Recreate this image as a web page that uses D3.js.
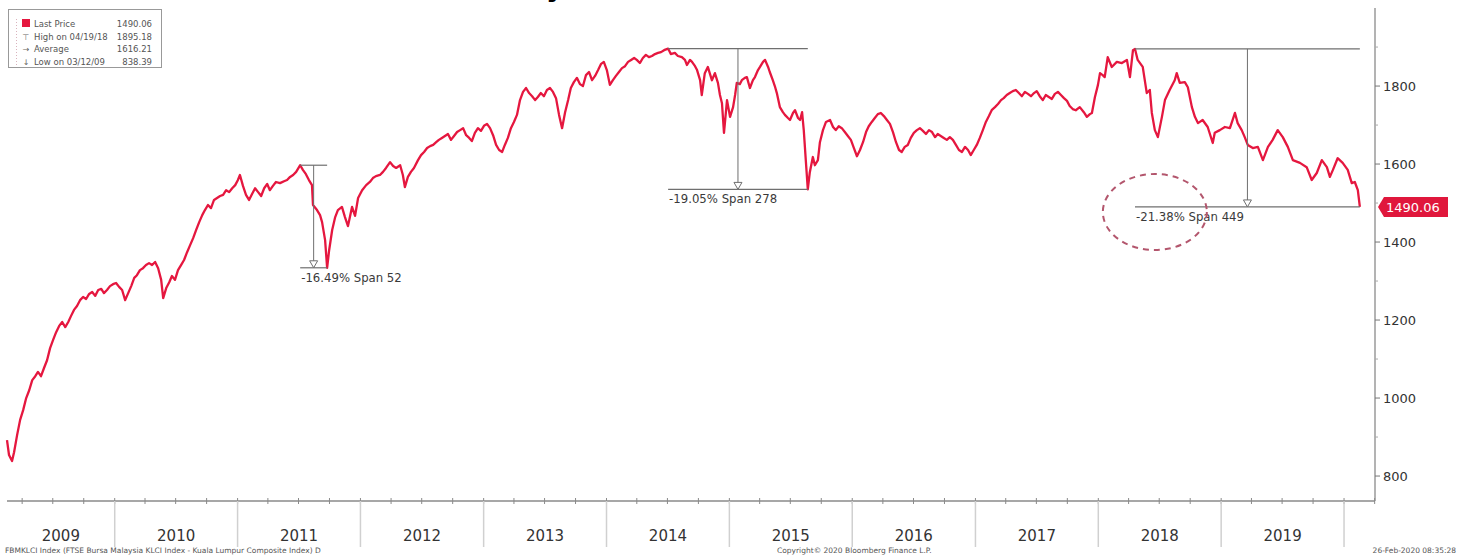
<!DOCTYPE html>
<html>
<head>
<meta charset="utf-8">
<script src="https://cdn.jsdelivr.net/npm/d3@7"></script>
<style>
  html, body { margin: 0; padding: 0; background: #fff; }
  svg { display: block; }
</style>
</head>
<body>
<div id="chart"></div>
<script>
// ---------------- DATA ----------------
// Calendar day offsets counted from 2009-01-01, and FBMKLCI closing prices
const dayOffsets = [
  45,51,60,66,75,84,93,102,111,120,129,137,146,155,164,173,182,191,200,209,218,227,235,244,253,262,271,280,289,298,307,316,325,333,342,351,360,369,378,
  387,396,405,414,423,431,440,449,458,467,476,485,494,503,509,518,527,535,544,553,562,571,580,589,598,607,616,625,633,642,651,660,669,678,687,696,705,714,723,731,737,
  746,755,764,773,782,791,800,809,818,826,835,844,856,868,877,886,895,904,916,924,933,942,951,954,966,975,981,990,996,1002,1011,1020,1028,1040,1049,1058,1070,1079,1088,1100,
  1112,1123,1132,1141,1153,1162,1171,1183,1192,1201,1213,1221,1227,1236,1245,1254,1266,1275,1284,1293,1302,1311,1320,1328,1337,1346,1355,1364,1373,1382,1391,1400,1409,1418,1426,1435,1444,1453,1462,
  1471,1480,1489,1498,1507,1516,1524,1533,1542,1551,1560,1569,1578,1587,1596,1605,1614,1622,1631,1640,1649,1658,1667,1676,1685,1694,1703,1712,1720,1729,1738,1747,1756,1765,1774,1783,1792,1801,1810,1818,1827,
  1836,1845,1854,1863,1872,1881,1890,1899,1908,1916,1925,1934,1943,1952,1961,1970,1979,1988,1997,2009,2017,2029,2038,2050,2059,2065,2074,2080,2089,2095,2104,2109,2118,2127,2139,2148,2157,2163,2169,2175,2184,2193,
  2202,2208,2213,2222,2228,2237,2243,2252,2261,2267,2276,2282,2291,2297,2306,2311,2320,2326,2332,2341,2350,2356,2365,2371,2380,2386,2395,2401,2407,2412,2418,2424,2430,2439,2445,2454,2460,2469,2478,2490,2499,2507,2516,2525,2534,2543,2552,
  2561,2570,2579,2588,2597,2605,2614,2623,2632,2641,2650,2659,2668,2677,2686,2695,2703,2712,2721,2730,2739,2748,2757,2766,2775,2784,2793,2802,2810,2819,2828,2837,2846,2855,2864,2873,2882,2891,2900,2908,2917,
  2926,2935,2944,2953,2962,2971,2980,2989,2998,3006,3015,3024,3033,3042,3051,3060,3069,3078,3087,3096,3104,3113,3122,3131,3140,3149,3158,3167,3176,3185,3194,3202,3211,3220,3232,3244,3253,3262,3268,3277,3286,
  3292,3300,3306,3315,3327,3342,3357,3372,3381,3390,3396,3404,3419,3431,3440,3446,3455,3464,3476,3485,3499,3514,3520,3529,3544,3553,3565,3574,3583,3597,3612,3627,3633,3648,
  3663,3678,3693,3701,3713,3722,3731,3746,3761,3776,3791,3805,3820,3835,3850,3865,3886,3906,3921,3936,3951,3966,3975,3984,3998,4013,4028,4040,4049,4058,4064
];
const prices = [
  892,854,838.39,861,905,944,969,1000,1020,1046,1056,1067,1056,1077,1097,1128,1149,1169,1185,1195,1182,1195,1210,1226,1236,1251,1259,1254,1267,1272,1262,1277,1280,1269,1277,1287,1292,1295,1285,
  1277,1251,1269,1287,1308,1315,1328,1333,1341,1346,1341,1349,1333,1303,1256,1282,1297,1313,1303,1328,1341,1354,1374,1392,1410,1431,1451,1469,1482,1495,1487,1508,1513,1518,1521,1533,1528,1538,1546,1559,1572,
  1544,1521,1508,1523,1538,1528,1518,1538,1549,1533,1544,1554,1551,1556,1559,1567,1572,1580,1597,1585,1574,1559,1546,1495,1482,1469,1451,1405,1334,1379,1431,1464,1482,1490,1464,1441,1490,1467,1513,1533,
  1546,1554,1564,1569,1572,1580,1590,1605,1595,1590,1597,1572,1541,1567,1580,1590,1610,1623,1631,1641,1646,1649,1656,1662,1667,1672,1677,1662,1672,1682,1687,1692,1674,1667,1659,1680,1692,1685,1698,
  1703,1692,1674,1649,1636,1631,1649,1667,1692,1708,1726,1764,1785,1795,1782,1774,1764,1772,1782,1774,1790,1795,1785,1769,1726,1692,1733,1764,1795,1810,1821,1805,1800,1828,1836,1815,1826,1841,1857,1862,1841,
  1803,1815,1826,1836,1846,1851,1862,1867,1872,1867,1859,1872,1880,1874,1877,1882,1885,1887,1892,1896,1882,1885,1877,1874,1867,1854,1867,1862,1851,1841,1815,1777,1833,1849,1815,1833,1808,1777,1756,1680,1764,1721,
  1746,1777,1808,1805,1815,1821,1823,1795,1815,1823,1841,1849,1862,1867,1849,1836,1815,1800,1782,1746,1733,1726,1718,1713,1731,1738,1718,1713,1733,1687,1610,1535,1579,1618,1597,1610,1656,1687,1708,1713,1695,1687,1697,1692,1682,1672,1662,
  1641,1620,1636,1656,1682,1697,1708,1718,1728,1731,1723,1713,1703,1682,1656,1636,1631,1644,1649,1667,1680,1687,1692,1685,1677,1687,1682,1669,1677,1672,1667,1662,1669,1662,1649,1636,1631,1644,1636,1623,1636,
  1649,1667,1687,1708,1723,1739,1746,1754,1764,1769,1777,1782,1787,1790,1782,1774,1785,1780,1774,1782,1787,1774,1764,1777,1772,1767,1780,1785,1777,1769,1762,1749,1741,1738,1746,1733,1721,1728,1731,1772,1803,
  1833,1828,1823,1874,1849,1862,1859,1867,1823,1892,1895.18,1867,1849,1782,1790,1731,1687,1669,1721,1764,1790,1815,1833,1808,1810,1797,1746,1721,1705,1713,1695,1654,1680,1687,
  1695,1692,1731,1705,1687,1669,1649,1641,1644,1610,1644,1662,1687,1669,1644,1610,1603,1592,1559,1577,1610,1592,1567,1585,1615,1603,1585,1551,1554,1533,1490.06
];

const yearLabels = [2009,2010,2011,2012,2013,2014,2015,2016,2017,2018,2019];
const yTickValues = [800,1000,1200,1400,1600,1800];
const yMinorTickValues = [900,1100,1300,1500,1700,1900];

// Drawdowns: peak day / trough day (offsets) and their labels
const drawdownPeakDays = [916, 2009, 3396];
const drawdownTroughDays = [996, 2424, 4064];
const drawdownLabels = ["-16.49% Span 52", "-19.05% Span 278", "-21.38% Span 449"];

const legendLabels = ["Last Price", "High on 04/19/18", "Average", "Low on 03/12/09"];
const legendValues = ["1490.06", "1895.18", "1616.21", "838.39"];
const legendSymbols = ["", "\u22A4", "\u2192", "\u2193"];

const lastPriceLabel = "1490.06";
const footerLeft = "FBMKLCI Index (FTSE Bursa Malaysia KLCI Index - Kuala Lumpur Composite Index)  D";
const footerCenter = "Copyright\u00A9 2020 Bloomberg Finance L.P.";
const footerRight = "26-Feb-2020 08:35:28";

// ---------------- CHART ----------------
const W = 1460, H = 555;
const base = new Date(Date.UTC(2009, 0, 1));
const toDate = n => d3.utcDay.offset(base, n);
const data = dayOffsets.map((d, i) => ({ date: toDate(d), day: d, v: prices[i] }));

const plotLeft = 7, axisX = 1375, axisBottom = 501, axisTop = 8;

const x = d3.scaleUtc().domain([toDate(45), toDate(4109)]).range([plotLeft, axisX]);
const y = d3.scaleLinear().domain([736, 1995]).range([axisBottom, 10]);

const svg = d3.select("#chart").append("svg").attr("width", W).attr("height", H)
  .style("font-family", "'DejaVu Sans', Verdana, sans-serif");
svg.append("rect").attr("width", W).attr("height", H).attr("fill", "#fff");

// cut-off title remnant at top edge
svg.append("text").attr("x", 546).attr("y", -4).attr("font-size", 28).attr("font-weight", "bold")
  .attr("fill", "#000").text("y");

// ---- x axis (bottom) ----
const gx = svg.append("g");
gx.append("line").attr("x1", plotLeft).attr("x2", axisX).attr("y1", axisBottom).attr("y2", axisBottom)
  .attr("stroke", "#8a8a8a").attr("stroke-width", 1.3);

const yearStarts = yearLabels.map(yr => new Date(Date.UTC(yr, 0, 1))).concat([new Date(Date.UTC(2020, 0, 1))]);
// quarterly small ticks
const quarterTicks = d3.utcMonth.every(3).range(toDate(45), toDate(4109));
gx.selectAll("line.q").data(quarterTicks).join("line")
  .attr("x1", d => x(d)).attr("x2", d => x(d)).attr("y1", axisBottom - 3).attr("y2", axisBottom + 3)
  .attr("stroke", "#8a8a8a").attr("stroke-width", 1);
// year divider lines below the axis
gx.selectAll("line.yd").data(yearStarts.slice(1)).join("line")
  .attr("x1", d => x(d)).attr("x2", d => x(d)).attr("y1", axisBottom).attr("y2", 547)
  .attr("stroke", "#d0d0d0").attr("stroke-width", 1.5);
// year labels
gx.selectAll("text.yr").data(yearLabels).join("text")
  .attr("x", (yr, i) => (Math.max(plotLeft, x(yearStarts[i])) + x(yearStarts[i + 1])) / 2)
  .attr("y", 541).attr("text-anchor", "middle").attr("font-size", 15).attr("fill", "#333")
  .text(d => d);

// ---- y axis (right) ----
const gy = svg.append("g");
gy.append("line").attr("x1", axisX).attr("x2", axisX).attr("y1", axisTop).attr("y2", axisBottom)
  .attr("stroke", "#8a8a8a").attr("stroke-width", 1.3);
gy.selectAll("line.maj").data(yTickValues).join("line")
  .attr("x1", axisX).attr("x2", axisX + 5).attr("y1", d => y(d)).attr("y2", d => y(d))
  .attr("stroke", "#777");
gy.selectAll("line.min").data(yMinorTickValues).join("line")
  .attr("x1", axisX).attr("x2", axisX + 3).attr("y1", d => y(d)).attr("y2", d => y(d))
  .attr("stroke", "#aaa");
gy.selectAll("text").data(yTickValues).join("text")
  .attr("x", axisX + 8).attr("y", d => y(d) + 5).attr("font-size", 13).attr("fill", "#333")
  .text(d => d);

// ---- price line ----
const line = d3.line().x(d => x(d.date)).y(d => y(d.v)).curve(d3.curveLinear);
svg.append("path").datum(data).attr("d", line).attr("fill", "none")
  .attr("stroke", "#e5173f").attr("stroke-width", 2.3).attr("stroke-linejoin", "round");

// ---- drawdown annotations ----
const priceAt = day => data.find(d => d.day === day).v;
const gd = svg.append("g");
drawdownLabels.forEach((lbl, i) => {
  const xp = x(toDate(drawdownPeakDays[i])), xt = x(toDate(drawdownTroughDays[i]));
  const yp = y(priceAt(drawdownPeakDays[i])), yt = y(priceAt(drawdownTroughDays[i]));
  const xm = (xp + xt) / 2;
  const stroke = "#6f6f6f";
  gd.append("line").attr("x1", xp).attr("x2", xt).attr("y1", yp).attr("y2", yp).attr("stroke", stroke).attr("stroke-width", 1.2);
  gd.append("line").attr("x1", xp).attr("x2", xt).attr("y1", yt).attr("y2", yt).attr("stroke", stroke).attr("stroke-width", 1.2);
  gd.append("line").attr("x1", xm).attr("x2", xm).attr("y1", yp).attr("y2", yt).attr("stroke", stroke).attr("stroke-width", 1);
  gd.append("path").attr("d", `M${xm - 4},${yt - 7}L${xm + 4},${yt - 7}L${xm},${yt}Z`)
    .attr("fill", "#fff").attr("stroke", stroke).attr("stroke-width", 1);
  gd.append("text").attr("x", xp + 1).attr("y", yt + 14)
    .attr("font-family", "'DejaVu Sans Condensed', 'DejaVu Sans', sans-serif")
    .attr("font-size", 13).attr("fill", "#3a3a3a").text(lbl);
});

// dashed ellipse highlight around the latest drawdown label
const ex = x(toDate(3455)), ey = y(1477);
svg.append("ellipse").attr("cx", ex).attr("cy", ey).attr("rx", 52).attr("ry", 38)
  .attr("fill", "none").attr("stroke", "#b3566d").attr("stroke-width", 2)
  .attr("stroke-dasharray", "6,5");

// ---- last price tag ----
const lastY = y(prices[prices.length - 1]);
const tagX = axisX + 3;
svg.append("path")
  .attr("d", `M${tagX},${lastY}L${tagX + 6},${lastY - 10}L${tagX + 70},${lastY - 10}L${tagX + 70},${lastY + 10}L${tagX + 6},${lastY + 10}Z`)
  .attr("fill", "#e0173c");
svg.append("text").attr("x", tagX + 8).attr("y", lastY + 5).attr("font-size", 13).attr("fill", "#fff")
  .text(lastPriceLabel);

// ---- legend ----
const lg = svg.append("g");
lg.append("rect").attr("x", 8.5).attr("y", 9.5).attr("width", 153).attr("height", 58)
  .attr("fill", "#fff").attr("stroke", "#999");
lg.append("line").attr("x1", 16.5).attr("x2", 16.5).attr("y1", 19).attr("y2", 66)
  .attr("stroke", "#d9b3bd").attr("stroke-dasharray", "1,2");
legendLabels.forEach((lbl, i) => {
  const ry = 24 + i * 12.5;
  if (i === 0) {
    lg.append("rect").attr("x", 22).attr("y", ry - 5).attr("width", 8).attr("height", 8).attr("fill", "#e5173f");
  } else {
    lg.append("text").attr("x", 26).attr("y", ry + 3).attr("text-anchor", "middle").attr("font-size", 8)
      .attr("fill", "#666").text(legendSymbols[i]);
  }
  lg.append("text").attr("x", 34).attr("y", ry + 3).attr("font-size", 8.5).attr("fill", "#555").text(lbl);
  lg.append("text").attr("x", 152).attr("y", ry + 3).attr("text-anchor", "end").attr("font-size", 8.5)
    .attr("fill", "#555").text(legendValues[i]);
});

// ---- footer ----
svg.append("text").attr("x", 5).attr("y", 553).attr("font-size", 7.5).attr("fill", "#555").text(footerLeft);
svg.append("text").attr("x", 777).attr("y", 553).attr("font-size", 7.5).attr("fill", "#555").text(footerCenter);
svg.append("text").attr("x", 1456).attr("y", 553).attr("text-anchor", "end").attr("font-size", 7.5).attr("fill", "#555").text(footerRight);
</script>
</body>
</html>
